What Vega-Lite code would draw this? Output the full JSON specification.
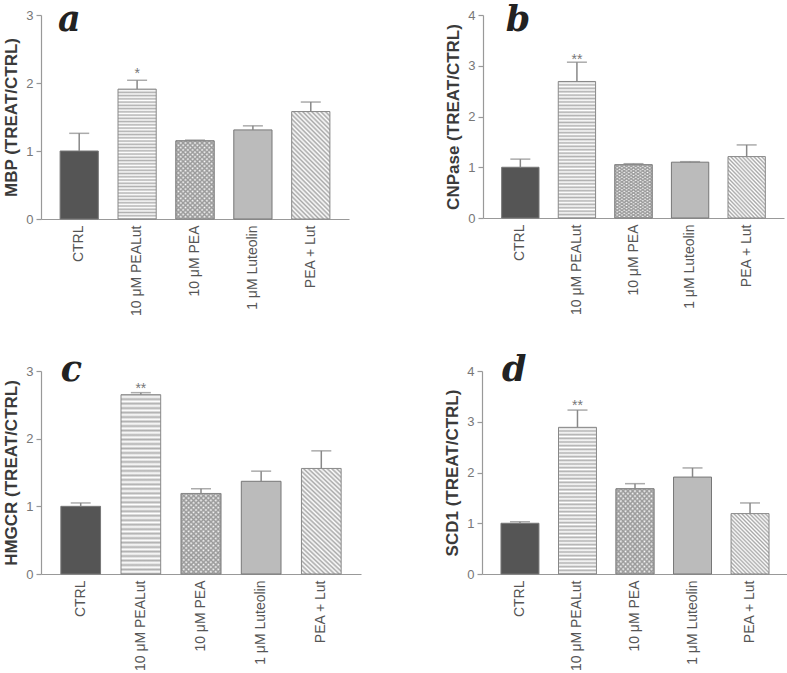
{
"$schema":"https://vega.github.io/schema/vega-lite/v6.json",
"padding":{"left":2,"top":3,"right":0,"bottom":0},
"datasets":{
"a":[{"g":"CTRL","mean":1.0,"upper":1.26,"sig":""},{"g":"10 μM PEALut","mean":1.91,"upper":2.04,"sig":"*"},{"g":"10 μM PEA","mean":1.15,"upper":1.16,"sig":""},{"g":"1 μM Luteolin","mean":1.31,"upper":1.37,"sig":""},{"g":"PEA + Lut","mean":1.58,"upper":1.72,"sig":""}],
"b":[{"g":"CTRL","mean":1.0,"upper":1.16,"sig":""},{"g":"10 μM PEALut","mean":2.69,"upper":3.07,"sig":"**"},{"g":"10 μM PEA","mean":1.05,"upper":1.07,"sig":""},{"g":"1 μM Luteolin","mean":1.10,"upper":1.11,"sig":""},{"g":"PEA + Lut","mean":1.21,"upper":1.44,"sig":""}],
"c":[{"g":"CTRL","mean":1.0,"upper":1.05,"sig":""},{"g":"10 μM PEALut","mean":2.65,"upper":2.68,"sig":"**"},{"g":"10 μM PEA","mean":1.19,"upper":1.26,"sig":""},{"g":"1 μM Luteolin","mean":1.37,"upper":1.52,"sig":""},{"g":"PEA + Lut","mean":1.56,"upper":1.82,"sig":""}],
"d":[{"g":"CTRL","mean":1.0,"upper":1.03,"sig":""},{"g":"10 μM PEALut","mean":2.89,"upper":3.23,"sig":"**"},{"g":"10 μM PEA","mean":1.68,"upper":1.78,"sig":""},{"g":"1 μM Luteolin","mean":1.91,"upper":2.09,"sig":""},{"g":"PEA + Lut","mean":1.19,"upper":1.40,"sig":""}]
},
"vconcat":[
{"hconcat":[
{"width":308,"height":204,"data":{"name":"a"},
"encoding":{"x":{"field":"g","type":"nominal","title":null,"scale":{"domain":["CTRL","10 μM PEALut","10 μM PEA","1 μM Luteolin","PEA + Lut"],"paddingInner":0.34,"paddingOuter":0.33}}},
"layer":[
{"transform":[{"filter":"datum.g==='CTRL'||datum.g==='1 μM Luteolin'"}],"mark":{"type":"bar","stroke":"#777","strokeWidth":1},"encoding":{"y":{"field":"mean","type":"quantitative","title":"MBP (TREAT/CTRL)","scale":{"domain":[0,3]}},"fill":{"field":"g","type":"nominal","legend":null,"scale":{"domain":["CTRL","1 μM Luteolin"],"range":["#555555","#bbbbbb"]}}}},
{"transform":[{"filter":"datum.g==='10 μM PEALut'"}],"mark":{"type":"bar","style":"hstripe","stroke":"#888","strokeWidth":1},"encoding":{"y":{"field":"mean","type":"quantitative","title":"MBP (TREAT/CTRL)"}}},
{"transform":[{"filter":"datum.g==='10 μM PEA'"}],"mark":{"type":"bar","style":"xh1","stroke":"#888","strokeWidth":1},"encoding":{"y":{"field":"mean","type":"quantitative","title":"MBP (TREAT/CTRL)"}}},
{"transform":[{"filter":"datum.g==='10 μM PEA'"}],"mark":{"type":"bar","style":"xh2","stroke":"#888","strokeWidth":1},"encoding":{"y":{"field":"mean","type":"quantitative","title":"MBP (TREAT/CTRL)"}}},
{"transform":[{"filter":"datum.g==='PEA + Lut'"}],"mark":{"type":"bar","style":"dtall","stroke":"#888","strokeWidth":1},"encoding":{"y":{"field":"mean","type":"quantitative","title":"MBP (TREAT/CTRL)"}}},
{"mark":{"type":"rule","color":"#888","strokeWidth":1.5},"encoding":{"y":{"field":"mean","type":"quantitative","title":"MBP (TREAT/CTRL)"},"y2":{"field":"upper"}}},
{"mark":{"type":"tick","color":"#888","size":20,"thickness":1.5},"encoding":{"y":{"field":"upper","type":"quantitative","title":"MBP (TREAT/CTRL)"}}},
{"mark":{"type":"text","color":"#777","fontSize":14,"baseline":"alphabetic","dy":-2},"encoding":{"y":{"field":"upper","type":"quantitative","title":"MBP (TREAT/CTRL)"},"text":{"field":"sig"}}},
{"data":{"values":[{"t":"a"}]},"mark":{"type":"text","font":"DejaVu Serif","fontStyle":"italic","fontWeight":"bold","fontSize":35,"align":"left","baseline":"alphabetic","dy":16,"dx":-2,"color":"#222"},"encoding":{"x":{"datum":"CTRL","bandPosition":0},"y":{"datum":3},"text":{"field":"t"}}}
]},
{"width":301,"height":203,"data":{"name":"b"},
"encoding":{"x":{"field":"g","type":"nominal","title":null,"scale":{"domain":["CTRL","10 μM PEALut","10 μM PEA","1 μM Luteolin","PEA + Lut"],"paddingInner":0.34,"paddingOuter":0.33}}},
"layer":[
{"transform":[{"filter":"datum.g==='CTRL'||datum.g==='1 μM Luteolin'"}],"mark":{"type":"bar","stroke":"#777","strokeWidth":1},"encoding":{"y":{"field":"mean","type":"quantitative","title":"CNPase (TREAT/CTRL)","scale":{"domain":[0,4]}},"fill":{"field":"g","type":"nominal","legend":null,"scale":{"domain":["CTRL","1 μM Luteolin"],"range":["#555555","#bbbbbb"]}}}},
{"transform":[{"filter":"datum.g==='10 μM PEALut'"}],"mark":{"type":"bar","style":"hstripe","stroke":"#888","strokeWidth":1},"encoding":{"y":{"field":"mean","type":"quantitative","title":"CNPase (TREAT/CTRL)"}}},
{"transform":[{"filter":"datum.g==='10 μM PEA'"}],"mark":{"type":"bar","style":"xh1","stroke":"#888","strokeWidth":1},"encoding":{"y":{"field":"mean","type":"quantitative","title":"CNPase (TREAT/CTRL)"}}},
{"transform":[{"filter":"datum.g==='10 μM PEA'"}],"mark":{"type":"bar","style":"xh2","stroke":"#888","strokeWidth":1},"encoding":{"y":{"field":"mean","type":"quantitative","title":"CNPase (TREAT/CTRL)"}}},
{"transform":[{"filter":"datum.g==='PEA + Lut'"}],"mark":{"type":"bar","style":"dshort","stroke":"#888","strokeWidth":1},"encoding":{"y":{"field":"mean","type":"quantitative","title":"CNPase (TREAT/CTRL)"}}},
{"mark":{"type":"rule","color":"#888","strokeWidth":1.5},"encoding":{"y":{"field":"mean","type":"quantitative","title":"CNPase (TREAT/CTRL)"},"y2":{"field":"upper"}}},
{"mark":{"type":"tick","color":"#888","size":20,"thickness":1.5},"encoding":{"y":{"field":"upper","type":"quantitative","title":"CNPase (TREAT/CTRL)"}}},
{"mark":{"type":"text","color":"#777","fontSize":14,"baseline":"alphabetic","dy":2},"encoding":{"y":{"field":"upper","type":"quantitative","title":"CNPase (TREAT/CTRL)"},"text":{"field":"sig"}}},
{"data":{"values":[{"t":"b"}]},"mark":{"type":"text","font":"DejaVu Serif","fontStyle":"italic","fontWeight":"bold","fontSize":35,"align":"left","baseline":"alphabetic","dy":16,"dx":4,"color":"#222"},"encoding":{"x":{"datum":"CTRL","bandPosition":0},"y":{"datum":4},"text":{"field":"t"}}}
]}
],"spacing":95},
{"hconcat":[
{"width":320,"height":203,"data":{"name":"c"},
"encoding":{"x":{"field":"g","type":"nominal","title":null,"scale":{"domain":["CTRL","10 μM PEALut","10 μM PEA","1 μM Luteolin","PEA + Lut"],"paddingInner":0.34,"paddingOuter":0.33}}},
"layer":[
{"transform":[{"filter":"datum.g==='CTRL'||datum.g==='1 μM Luteolin'"}],"mark":{"type":"bar","stroke":"#777","strokeWidth":1},"encoding":{"y":{"field":"mean","type":"quantitative","title":"HMGCR (TREAT/CTRL)","scale":{"domain":[0,3]}},"fill":{"field":"g","type":"nominal","legend":null,"scale":{"domain":["CTRL","1 μM Luteolin"],"range":["#555555","#bbbbbb"]}}}},
{"transform":[{"filter":"datum.g==='10 μM PEALut'"}],"mark":{"type":"bar","style":"hstripe","stroke":"#888","strokeWidth":1},"encoding":{"y":{"field":"mean","type":"quantitative","title":"HMGCR (TREAT/CTRL)"}}},
{"transform":[{"filter":"datum.g==='10 μM PEA'"}],"mark":{"type":"bar","style":"xh1","stroke":"#888","strokeWidth":1},"encoding":{"y":{"field":"mean","type":"quantitative","title":"HMGCR (TREAT/CTRL)"}}},
{"transform":[{"filter":"datum.g==='10 μM PEA'"}],"mark":{"type":"bar","style":"xh2","stroke":"#888","strokeWidth":1},"encoding":{"y":{"field":"mean","type":"quantitative","title":"HMGCR (TREAT/CTRL)"}}},
{"transform":[{"filter":"datum.g==='PEA + Lut'"}],"mark":{"type":"bar","style":"dtall","stroke":"#888","strokeWidth":1},"encoding":{"y":{"field":"mean","type":"quantitative","title":"HMGCR (TREAT/CTRL)"}}},
{"mark":{"type":"rule","color":"#888","strokeWidth":1.5},"encoding":{"y":{"field":"mean","type":"quantitative","title":"HMGCR (TREAT/CTRL)"},"y2":{"field":"upper"}}},
{"mark":{"type":"tick","color":"#888","size":20,"thickness":1.5},"encoding":{"y":{"field":"upper","type":"quantitative","title":"HMGCR (TREAT/CTRL)"}}},
{"mark":{"type":"text","color":"#777","fontSize":14,"baseline":"alphabetic","dy":0},"encoding":{"y":{"field":"upper","type":"quantitative","title":"HMGCR (TREAT/CTRL)"},"text":{"field":"sig"}}},
{"data":{"values":[{"t":"c"}]},"mark":{"type":"text","font":"DejaVu Serif","fontStyle":"italic","fontWeight":"bold","fontSize":35,"align":"left","baseline":"alphabetic","dy":10,"color":"#222"},"encoding":{"x":{"datum":"CTRL","bandPosition":0},"y":{"datum":3},"text":{"field":"t"}}}
]},
{"width":306,"height":203,"data":{"name":"d"},
"encoding":{"x":{"field":"g","type":"nominal","title":null,"scale":{"domain":["CTRL","10 μM PEALut","10 μM PEA","1 μM Luteolin","PEA + Lut"],"paddingInner":0.34,"paddingOuter":0.33}}},
"layer":[
{"transform":[{"filter":"datum.g==='CTRL'||datum.g==='1 μM Luteolin'"}],"mark":{"type":"bar","stroke":"#777","strokeWidth":1},"encoding":{"y":{"field":"mean","type":"quantitative","title":"SCD1 (TREAT/CTRL)","scale":{"domain":[0,4]}},"fill":{"field":"g","type":"nominal","legend":null,"scale":{"domain":["CTRL","1 μM Luteolin"],"range":["#555555","#dcdcdc"]}}}},
{"transform":[{"filter":"datum.g==='10 μM PEALut'"}],"mark":{"type":"bar","style":"hstripe","stroke":"#888","strokeWidth":1},"encoding":{"y":{"field":"mean","type":"quantitative","title":"SCD1 (TREAT/CTRL)"}}},
{"transform":[{"filter":"datum.g==='10 μM PEA'"}],"mark":{"type":"bar","style":"xh1","stroke":"#888","strokeWidth":1},"encoding":{"y":{"field":"mean","type":"quantitative","title":"SCD1 (TREAT/CTRL)"}}},
{"transform":[{"filter":"datum.g==='10 μM PEA'"}],"mark":{"type":"bar","style":"xh2","stroke":"#888","strokeWidth":1},"encoding":{"y":{"field":"mean","type":"quantitative","title":"SCD1 (TREAT/CTRL)"}}},
{"transform":[{"filter":"datum.g==='PEA + Lut'"}],"mark":{"type":"bar","style":"dshort","stroke":"#888","strokeWidth":1},"encoding":{"y":{"field":"mean","type":"quantitative","title":"SCD1 (TREAT/CTRL)"}}},
{"mark":{"type":"rule","color":"#888","strokeWidth":1.5},"encoding":{"y":{"field":"mean","type":"quantitative","title":"SCD1 (TREAT/CTRL)"},"y2":{"field":"upper"}}},
{"mark":{"type":"tick","color":"#888","size":20,"thickness":1.5},"encoding":{"y":{"field":"upper","type":"quantitative","title":"SCD1 (TREAT/CTRL)"}}},
{"mark":{"type":"text","color":"#777","fontSize":14,"baseline":"alphabetic","dy":0},"encoding":{"y":{"field":"upper","type":"quantitative","title":"SCD1 (TREAT/CTRL)"},"text":{"field":"sig"}}},
{"data":{"values":[{"t":"d"}]},"mark":{"type":"text","font":"DejaVu Serif","fontStyle":"italic","fontWeight":"bold","fontSize":35,"align":"left","baseline":"alphabetic","dy":10,"dx":1,"color":"#222"},"encoding":{"x":{"datum":"CTRL","bandPosition":0},"y":{"datum":4},"text":{"field":"t"}}}
]}
],"spacing":82}
],
"spacing":37,
"config":{
"view":{"stroke":null},
"font":"Liberation Sans",
"axis":{"domainColor":"#999","tickColor":"#999","labelColor":"#777","labelFontSize":13,"titleFontSize":17,"titleFontWeight":"bold","titleColor":"#3a3a3a","grid":false,"domainWidth":1.2,"tickWidth":1.2},
"axisX":{"ticks":false,"labelAngle":270,"labelPadding":6,"labelColor":"#555","labelFontSize":14},
"axisY":{"tickSize":5,"tickMinStep":1,"titlePadding":5,"labelPadding":3},
"style":{
"hstripe":{"color":{"gradient":"linear","x1":0,"y1":0,"x2":0,"y2":1,"stops":[
{"offset":0,"color":"#b0b0b0"},{"offset":0.0125,"color":"#fff"},{"offset":0.025,"color":"#b0b0b0"},{"offset":0.0375,"color":"#fff"},{"offset":0.05,"color":"#b0b0b0"},{"offset":0.0625,"color":"#fff"},{"offset":0.075,"color":"#b0b0b0"},{"offset":0.0875,"color":"#fff"},{"offset":0.1,"color":"#b0b0b0"},{"offset":0.1125,"color":"#fff"},{"offset":0.125,"color":"#b0b0b0"},{"offset":0.1375,"color":"#fff"},{"offset":0.15,"color":"#b0b0b0"},{"offset":0.1625,"color":"#fff"},{"offset":0.175,"color":"#b0b0b0"},{"offset":0.1875,"color":"#fff"},{"offset":0.2,"color":"#b0b0b0"},{"offset":0.2125,"color":"#fff"},{"offset":0.225,"color":"#b0b0b0"},{"offset":0.2375,"color":"#fff"},{"offset":0.25,"color":"#b0b0b0"},{"offset":0.2625,"color":"#fff"},{"offset":0.275,"color":"#b0b0b0"},{"offset":0.2875,"color":"#fff"},{"offset":0.3,"color":"#b0b0b0"},{"offset":0.3125,"color":"#fff"},{"offset":0.325,"color":"#b0b0b0"},{"offset":0.3375,"color":"#fff"},{"offset":0.35,"color":"#b0b0b0"},{"offset":0.3625,"color":"#fff"},{"offset":0.375,"color":"#b0b0b0"},{"offset":0.3875,"color":"#fff"},{"offset":0.4,"color":"#b0b0b0"},{"offset":0.4125,"color":"#fff"},{"offset":0.425,"color":"#b0b0b0"},{"offset":0.4375,"color":"#fff"},{"offset":0.45,"color":"#b0b0b0"},{"offset":0.4625,"color":"#fff"},{"offset":0.475,"color":"#b0b0b0"},{"offset":0.4875,"color":"#fff"},{"offset":0.5,"color":"#b0b0b0"},{"offset":0.5125,"color":"#fff"},{"offset":0.525,"color":"#b0b0b0"},{"offset":0.5375,"color":"#fff"},{"offset":0.55,"color":"#b0b0b0"},{"offset":0.5625,"color":"#fff"},{"offset":0.575,"color":"#b0b0b0"},{"offset":0.5875,"color":"#fff"},{"offset":0.6,"color":"#b0b0b0"},{"offset":0.6125,"color":"#fff"},{"offset":0.625,"color":"#b0b0b0"},{"offset":0.6375,"color":"#fff"},{"offset":0.65,"color":"#b0b0b0"},{"offset":0.6625,"color":"#fff"},{"offset":0.675,"color":"#b0b0b0"},{"offset":0.6875,"color":"#fff"},{"offset":0.7,"color":"#b0b0b0"},{"offset":0.7125,"color":"#fff"},{"offset":0.725,"color":"#b0b0b0"},{"offset":0.7375,"color":"#fff"},{"offset":0.75,"color":"#b0b0b0"},{"offset":0.7625,"color":"#fff"},{"offset":0.775,"color":"#b0b0b0"},{"offset":0.7875,"color":"#fff"},{"offset":0.8,"color":"#b0b0b0"},{"offset":0.8125,"color":"#fff"},{"offset":0.825,"color":"#b0b0b0"},{"offset":0.8375,"color":"#fff"},{"offset":0.85,"color":"#b0b0b0"},{"offset":0.8625,"color":"#fff"},{"offset":0.875,"color":"#b0b0b0"},{"offset":0.8875,"color":"#fff"},{"offset":0.9,"color":"#b0b0b0"},{"offset":0.9125,"color":"#fff"},{"offset":0.925,"color":"#b0b0b0"},{"offset":0.9375,"color":"#fff"},{"offset":0.95,"color":"#b0b0b0"},{"offset":0.9625,"color":"#fff"},{"offset":0.975,"color":"#b0b0b0"},{"offset":0.9875,"color":"#fff"},{"offset":1,"color":"#b0b0b0"}]}},
"dtall":{"color":{"gradient":"linear","x1":0,"y1":1,"x2":0.4274,"y2":-0.2034,"stops":[
{"offset":0,"color":"#a8a8a8"},{"offset":0.0156,"color":"#fff"},{"offset":0.0313,"color":"#a8a8a8"},{"offset":0.0469,"color":"#fff"},{"offset":0.0625,"color":"#a8a8a8"},{"offset":0.0781,"color":"#fff"},{"offset":0.0938,"color":"#a8a8a8"},{"offset":0.1094,"color":"#fff"},{"offset":0.125,"color":"#a8a8a8"},{"offset":0.1406,"color":"#fff"},{"offset":0.1563,"color":"#a8a8a8"},{"offset":0.1719,"color":"#fff"},{"offset":0.1875,"color":"#a8a8a8"},{"offset":0.2031,"color":"#fff"},{"offset":0.2188,"color":"#a8a8a8"},{"offset":0.2344,"color":"#fff"},{"offset":0.25,"color":"#a8a8a8"},{"offset":0.2656,"color":"#fff"},{"offset":0.2813,"color":"#a8a8a8"},{"offset":0.2969,"color":"#fff"},{"offset":0.3125,"color":"#a8a8a8"},{"offset":0.3281,"color":"#fff"},{"offset":0.3438,"color":"#a8a8a8"},{"offset":0.3594,"color":"#fff"},{"offset":0.375,"color":"#a8a8a8"},{"offset":0.3906,"color":"#fff"},{"offset":0.4063,"color":"#a8a8a8"},{"offset":0.4219,"color":"#fff"},{"offset":0.4375,"color":"#a8a8a8"},{"offset":0.4531,"color":"#fff"},{"offset":0.4688,"color":"#a8a8a8"},{"offset":0.4844,"color":"#fff"},{"offset":0.5,"color":"#a8a8a8"},{"offset":0.5156,"color":"#fff"},{"offset":0.5313,"color":"#a8a8a8"},{"offset":0.5469,"color":"#fff"},{"offset":0.5625,"color":"#a8a8a8"},{"offset":0.5781,"color":"#fff"},{"offset":0.5938,"color":"#a8a8a8"},{"offset":0.6094,"color":"#fff"},{"offset":0.625,"color":"#a8a8a8"},{"offset":0.6406,"color":"#fff"},{"offset":0.6563,"color":"#a8a8a8"},{"offset":0.6719,"color":"#fff"},{"offset":0.6875,"color":"#a8a8a8"},{"offset":0.7031,"color":"#fff"},{"offset":0.7188,"color":"#a8a8a8"},{"offset":0.7344,"color":"#fff"},{"offset":0.75,"color":"#a8a8a8"},{"offset":0.7656,"color":"#fff"},{"offset":0.7813,"color":"#a8a8a8"},{"offset":0.7969,"color":"#fff"},{"offset":0.8125,"color":"#a8a8a8"},{"offset":0.8281,"color":"#fff"},{"offset":0.8438,"color":"#a8a8a8"},{"offset":0.8594,"color":"#fff"},{"offset":0.875,"color":"#a8a8a8"},{"offset":0.8906,"color":"#fff"},{"offset":0.9063,"color":"#a8a8a8"},{"offset":0.9219,"color":"#fff"},{"offset":0.9375,"color":"#a8a8a8"},{"offset":0.9531,"color":"#fff"},{"offset":0.9688,"color":"#a8a8a8"},{"offset":0.9844,"color":"#fff"},{"offset":1,"color":"#a8a8a8"}]}},
"dshort":{"color":{"gradient":"linear","x1":0,"y1":1,"x2":0.738,"y2":-0.166,"stops":[
{"offset":0,"color":"#a8a8a8"},{"offset":0.02,"color":"#fff"},{"offset":0.04,"color":"#a8a8a8"},{"offset":0.06,"color":"#fff"},{"offset":0.08,"color":"#a8a8a8"},{"offset":0.1,"color":"#fff"},{"offset":0.12,"color":"#a8a8a8"},{"offset":0.14,"color":"#fff"},{"offset":0.16,"color":"#a8a8a8"},{"offset":0.18,"color":"#fff"},{"offset":0.2,"color":"#a8a8a8"},{"offset":0.22,"color":"#fff"},{"offset":0.24,"color":"#a8a8a8"},{"offset":0.26,"color":"#fff"},{"offset":0.28,"color":"#a8a8a8"},{"offset":0.3,"color":"#fff"},{"offset":0.32,"color":"#a8a8a8"},{"offset":0.34,"color":"#fff"},{"offset":0.36,"color":"#a8a8a8"},{"offset":0.38,"color":"#fff"},{"offset":0.4,"color":"#a8a8a8"},{"offset":0.42,"color":"#fff"},{"offset":0.44,"color":"#a8a8a8"},{"offset":0.46,"color":"#fff"},{"offset":0.48,"color":"#a8a8a8"},{"offset":0.5,"color":"#fff"},{"offset":0.52,"color":"#a8a8a8"},{"offset":0.54,"color":"#fff"},{"offset":0.56,"color":"#a8a8a8"},{"offset":0.58,"color":"#fff"},{"offset":0.6,"color":"#a8a8a8"},{"offset":0.62,"color":"#fff"},{"offset":0.64,"color":"#a8a8a8"},{"offset":0.66,"color":"#fff"},{"offset":0.68,"color":"#a8a8a8"},{"offset":0.7,"color":"#fff"},{"offset":0.72,"color":"#a8a8a8"},{"offset":0.74,"color":"#fff"},{"offset":0.76,"color":"#a8a8a8"},{"offset":0.78,"color":"#fff"},{"offset":0.8,"color":"#a8a8a8"},{"offset":0.82,"color":"#fff"},{"offset":0.84,"color":"#a8a8a8"},{"offset":0.86,"color":"#fff"},{"offset":0.88,"color":"#a8a8a8"},{"offset":0.9,"color":"#fff"},{"offset":0.92,"color":"#a8a8a8"},{"offset":0.94,"color":"#fff"},{"offset":0.96,"color":"#a8a8a8"},{"offset":0.98,"color":"#fff"},{"offset":1,"color":"#a8a8a8"}]}},
"xh1":{"color":{"gradient":"linear","x1":0,"y1":1,"x2":0.5717,"y2":-0.2035,"stops":[
{"offset":0,"color":"#9a9a9a"},{"offset":0.02,"color":"#fff"},{"offset":0.04,"color":"#9a9a9a"},{"offset":0.06,"color":"#fff"},{"offset":0.08,"color":"#9a9a9a"},{"offset":0.1,"color":"#fff"},{"offset":0.12,"color":"#9a9a9a"},{"offset":0.14,"color":"#fff"},{"offset":0.16,"color":"#9a9a9a"},{"offset":0.18,"color":"#fff"},{"offset":0.2,"color":"#9a9a9a"},{"offset":0.22,"color":"#fff"},{"offset":0.24,"color":"#9a9a9a"},{"offset":0.26,"color":"#fff"},{"offset":0.28,"color":"#9a9a9a"},{"offset":0.3,"color":"#fff"},{"offset":0.32,"color":"#9a9a9a"},{"offset":0.34,"color":"#fff"},{"offset":0.36,"color":"#9a9a9a"},{"offset":0.38,"color":"#fff"},{"offset":0.4,"color":"#9a9a9a"},{"offset":0.42,"color":"#fff"},{"offset":0.44,"color":"#9a9a9a"},{"offset":0.46,"color":"#fff"},{"offset":0.48,"color":"#9a9a9a"},{"offset":0.5,"color":"#fff"},{"offset":0.52,"color":"#9a9a9a"},{"offset":0.54,"color":"#fff"},{"offset":0.56,"color":"#9a9a9a"},{"offset":0.58,"color":"#fff"},{"offset":0.6,"color":"#9a9a9a"},{"offset":0.62,"color":"#fff"},{"offset":0.64,"color":"#9a9a9a"},{"offset":0.66,"color":"#fff"},{"offset":0.68,"color":"#9a9a9a"},{"offset":0.7,"color":"#fff"},{"offset":0.72,"color":"#9a9a9a"},{"offset":0.74,"color":"#fff"},{"offset":0.76,"color":"#9a9a9a"},{"offset":0.78,"color":"#fff"},{"offset":0.8,"color":"#9a9a9a"},{"offset":0.82,"color":"#fff"},{"offset":0.84,"color":"#9a9a9a"},{"offset":0.86,"color":"#fff"},{"offset":0.88,"color":"#9a9a9a"},{"offset":0.9,"color":"#fff"},{"offset":0.92,"color":"#9a9a9a"},{"offset":0.94,"color":"#fff"},{"offset":0.96,"color":"#9a9a9a"},{"offset":0.98,"color":"#fff"},{"offset":1,"color":"#9a9a9a"}]}},
"xh2":{"color":{"gradient":"linear","x1":0,"y1":0,"x2":0.5717,"y2":1.2035,"stops":[
{"offset":0,"color":"#9a9a9a"},{"offset":0.02,"color":"rgba(154,154,154,0)"},{"offset":0.04,"color":"#9a9a9a"},{"offset":0.06,"color":"rgba(154,154,154,0)"},{"offset":0.08,"color":"#9a9a9a"},{"offset":0.1,"color":"rgba(154,154,154,0)"},{"offset":0.12,"color":"#9a9a9a"},{"offset":0.14,"color":"rgba(154,154,154,0)"},{"offset":0.16,"color":"#9a9a9a"},{"offset":0.18,"color":"rgba(154,154,154,0)"},{"offset":0.2,"color":"#9a9a9a"},{"offset":0.22,"color":"rgba(154,154,154,0)"},{"offset":0.24,"color":"#9a9a9a"},{"offset":0.26,"color":"rgba(154,154,154,0)"},{"offset":0.28,"color":"#9a9a9a"},{"offset":0.3,"color":"rgba(154,154,154,0)"},{"offset":0.32,"color":"#9a9a9a"},{"offset":0.34,"color":"rgba(154,154,154,0)"},{"offset":0.36,"color":"#9a9a9a"},{"offset":0.38,"color":"rgba(154,154,154,0)"},{"offset":0.4,"color":"#9a9a9a"},{"offset":0.42,"color":"rgba(154,154,154,0)"},{"offset":0.44,"color":"#9a9a9a"},{"offset":0.46,"color":"rgba(154,154,154,0)"},{"offset":0.48,"color":"#9a9a9a"},{"offset":0.5,"color":"rgba(154,154,154,0)"},{"offset":0.52,"color":"#9a9a9a"},{"offset":0.54,"color":"rgba(154,154,154,0)"},{"offset":0.56,"color":"#9a9a9a"},{"offset":0.58,"color":"rgba(154,154,154,0)"},{"offset":0.6,"color":"#9a9a9a"},{"offset":0.62,"color":"rgba(154,154,154,0)"},{"offset":0.64,"color":"#9a9a9a"},{"offset":0.66,"color":"rgba(154,154,154,0)"},{"offset":0.68,"color":"#9a9a9a"},{"offset":0.7,"color":"rgba(154,154,154,0)"},{"offset":0.72,"color":"#9a9a9a"},{"offset":0.74,"color":"rgba(154,154,154,0)"},{"offset":0.76,"color":"#9a9a9a"},{"offset":0.78,"color":"rgba(154,154,154,0)"},{"offset":0.8,"color":"#9a9a9a"},{"offset":0.82,"color":"rgba(154,154,154,0)"},{"offset":0.84,"color":"#9a9a9a"},{"offset":0.86,"color":"rgba(154,154,154,0)"},{"offset":0.88,"color":"#9a9a9a"},{"offset":0.9,"color":"rgba(154,154,154,0)"},{"offset":0.92,"color":"#9a9a9a"},{"offset":0.94,"color":"rgba(154,154,154,0)"},{"offset":0.96,"color":"#9a9a9a"},{"offset":0.98,"color":"rgba(154,154,154,0)"},{"offset":1,"color":"#9a9a9a"}]}}
}
}
}
